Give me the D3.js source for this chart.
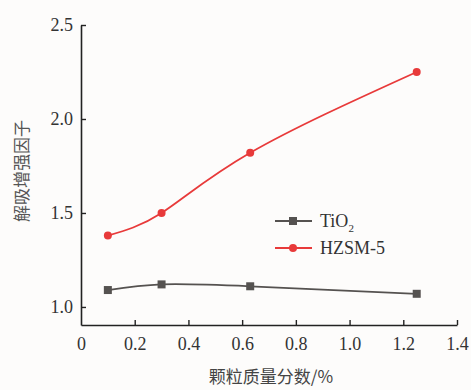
<!DOCTYPE html>
<html><head><meta charset="utf-8">
<script src="https://cdn.jsdelivr.net/npm/d3@7"></script>
<style>body{margin:0;background:#fdfcfb;} svg{display:block;}</style>
</head><body>
<script>
const xValues = [0.1, 0.3, 0.63, 1.25];
const tio2 = [1.09, 1.12, 1.11, 1.07];
const hzsm = [1.38, 1.50, 1.82, 2.25];
const seriesNames = ["TiO", "HZSM-5"];
const xTicks = [0, 0.2, 0.4, 0.6, 0.8, 1.0, 1.2, 1.4];
const yTicks = [1.0, 1.5, 2.0, 2.5];
const xTitle = "颗粒质量分数/%";
const yTitle = "解吸增强因子";

const W = 471, H = 390;
const svg = d3.select("body").append("svg").attr("width", W).attr("height", H);
svg.append("rect").attr("width", W).attr("height", H).attr("fill", "#fdfcfb");

const x = d3.scaleLinear().domain([0, 1.4]).range([81, 457]);
const y = d3.scaleLinear().domain([0.904, 2.5]).range([325, 25]);

const serif = "'Liberation Serif','Times New Roman',serif";
const cjk = "'Noto Sans CJK SC',sans-serif";

// axes
const xAxis = svg.append("g").attr("transform", "translate(0,325)")
  .call(d3.axisBottom(x).tickValues(xTicks).tickSizeInner(-5).tickSizeOuter(0).tickPadding(12)
    .tickFormat(d => d === 0 ? "0" : d3.format(".1f")(d)));
const yAxis = svg.append("g").attr("transform", "translate(81,0)")
  .call(d3.axisLeft(y).tickValues(yTicks).tickSizeInner(-5).tickSizeOuter(0).tickPadding(8)
    .tickFormat(d3.format(".1f")));
[xAxis, yAxis].forEach(g => {
  g.select(".domain").attr("stroke", "#222").attr("stroke-width", 1.6);
  g.selectAll(".tick line").attr("stroke", "#222").attr("stroke-width", 1.4);
  g.selectAll(".tick text").attr("fill", "#333").style("font-family", serif).style("font-size", "18px");
});
xAxis.selectAll(".tick").filter(d => d === 0).select("line").remove();

// titles
svg.append("text").attr("x", 271).attr("y", 383).attr("text-anchor", "middle")
  .style("font-family", cjk).style("font-size", "17px").attr("fill", "#444").text(xTitle);
svg.append("text").attr("transform", "translate(28,171) rotate(-90)").attr("text-anchor", "middle")
  .style("font-family", cjk).style("font-size", "17px").attr("fill", "#555").text(yTitle);

const line = d3.line().x(d => x(d[0])).y(d => y(d[1])).curve(d3.curveNatural);
const series = [
  {name: seriesNames[0], vals: tio2, color: "#555250", shape: "square"},
  {name: seriesNames[1], vals: hzsm, color: "#e83a3a", shape: "circle"}
];
series.forEach(s => {
  const pts = xValues.map((xv, i) => [xv, s.vals[i]]);
  svg.append("path").attr("d", line(pts)).attr("fill", "none").attr("stroke", s.color).attr("stroke-width", 1.8);
  pts.forEach(p => drawMarker(x(p[0]), y(p[1]), s));
});
function drawMarker(cx, cy, s) {
  if (s.shape === "square") {
    svg.append("rect").attr("x", cx - 4).attr("y", cy - 4).attr("width", 8).attr("height", 8).attr("fill", s.color);
  } else {
    svg.append("circle").attr("cx", cx).attr("cy", cy).attr("r", 4).attr("fill", s.color);
  }
}

// legend
series.forEach((s, i) => {
  const ly = 221 + i * 27;
  svg.append("line").attr("x1", 275).attr("x2", 312).attr("y1", ly).attr("y2", ly).attr("stroke", s.color).attr("stroke-width", 1.8);
  drawMarker(293, ly, s);
  const t = svg.append("text").attr("x", 320).attr("y", ly + 6).style("font-family", serif).style("font-size", "18px").attr("fill", "#333");
  t.append("tspan").text(s.name);
  if (i === 0) t.append("tspan").attr("dy", 5).style("font-size", "11px").text("2");
});
</script>
</body></html>
